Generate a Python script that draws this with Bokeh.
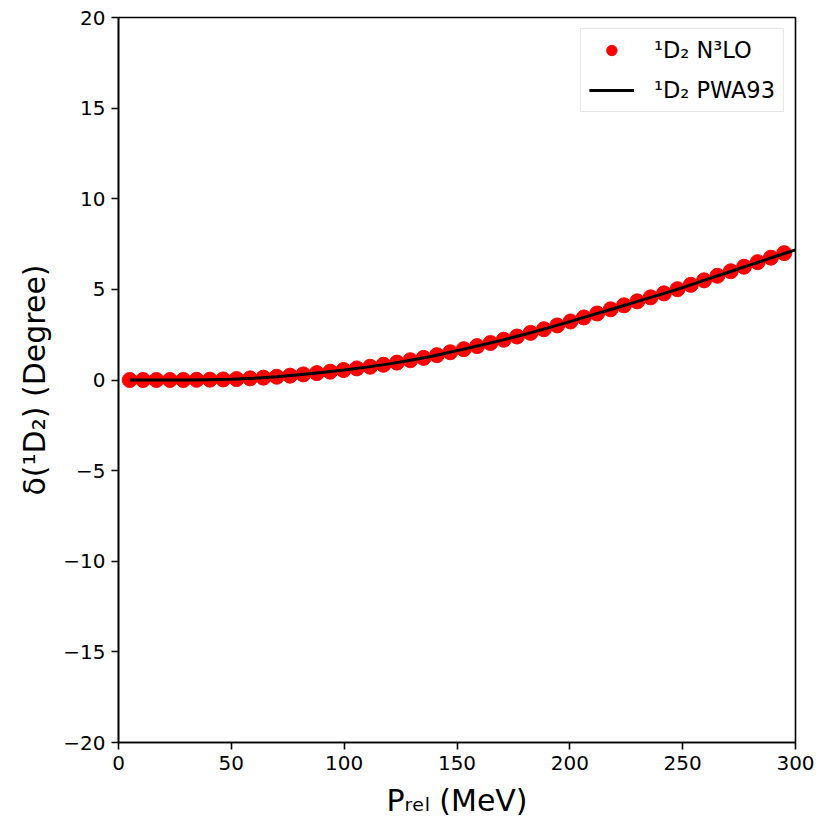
from bokeh.plotting import figure
from bokeh.models import Range1d, FixedTicker, Legend, LegendItem
from bokeh.embed import file_html
from bokeh.resources import INLINE

# ---------------- data ----------------
n3lo_p = [5.0, 10.9, 16.8, 22.8, 28.7, 34.6, 40.5, 46.4, 52.3, 58.3,
          64.2, 70.1, 76.0, 81.9, 87.9, 93.8, 99.7, 105.6, 111.5, 117.4,
          123.4, 129.3, 135.2, 141.1, 147.0, 153.0, 158.9, 164.8, 170.7, 176.6,
          182.6, 188.5, 194.4, 200.3, 206.2, 212.1, 218.1, 224.0, 229.9, 235.8,
          241.7, 247.7, 253.6, 259.5, 265.4, 271.3, 277.2, 283.2, 289.1, 295.0]
n3lo_delta = [0.00, 0.00, 0.00, 0.00, 0.00, 0.01, 0.02, 0.03, 0.05, 0.09,
              0.13, 0.18, 0.24, 0.31, 0.38, 0.46, 0.55, 0.64, 0.73, 0.84,
              0.96, 1.09, 1.22, 1.37, 1.53, 1.70, 1.87, 2.04, 2.22, 2.40,
              2.60, 2.80, 3.01, 3.23, 3.45, 3.67, 3.90, 4.12, 4.34, 4.56,
              4.78, 5.01, 5.25, 5.50, 5.75, 6.00, 6.25, 6.50, 6.75, 7.00]

pwa_p = [5, 10, 20, 30, 40, 50, 60, 70, 80, 90, 100, 110, 120, 130, 140, 150,
         160, 170, 180, 190, 200, 210, 220, 230, 240, 250, 260, 270, 280, 290, 300]
pwa_delta = [0.00, 0.00, 0.00, 0.00, 0.02, 0.04, 0.09, 0.18, 0.29, 0.41, 0.55,
             0.71, 0.89, 1.10, 1.34, 1.62, 1.90, 2.20, 2.52, 2.86, 3.22, 3.59,
             3.96, 4.34, 4.71, 5.10, 5.52, 5.93, 6.35, 6.77, 7.18]

x_ticks = [0, 50, 100, 150, 200, 250, 300]
y_ticks = [-20, -15, -10, -5, 0, 5, 10, 15, 20]
legend_labels = ["\u00b9D\u2082 N\u00b3LO", "\u00b9D\u2082 PWA93"]
x_title = "P\u1d63\u2091\u2097 (MeV)"
y_title = "\u03b4(\u00b9D\u2082) (Degree)"

# ---------------- layout ----------------
W, H = 815, 820
BL, BT = 118, 17
BR, BB = W - 795, H - 742

p = figure(width=W, height=H, x_range=Range1d(0, 300), y_range=Range1d(-20, 20),
           output_backend="svg", toolbar_location=None,
           min_border_left=BL, min_border_right=BR, min_border_top=BT, min_border_bottom=BB)
p.background_fill_color = "white"
p.border_fill_color = "white"
p.outline_line_color = "black"
p.outline_line_width = 1.6
p.xgrid.visible = False
p.ygrid.visible = False

for ax, ticks in ((p.xaxis[0], x_ticks), (p.yaxis[0], y_ticks)):
    ax.ticker = FixedTicker(ticks=ticks)
    ax.major_label_overrides = {t: (("\u2212" + str(abs(t))) if t < 0 else str(t)) for t in ticks}
    ax.axis_line_color = "black"
    ax.axis_line_width = 1.6
    ax.major_tick_line_color = "black"
    ax.major_tick_line_width = 1.6
    ax.major_tick_in = 0
    ax.major_tick_out = 7
    ax.minor_tick_line_color = None
    ax.major_label_text_font = "DejaVu Sans"
    ax.major_label_text_font_size = "20px"
    ax.major_label_text_color = "black"
    ax.major_label_standoff = 6
    ax.axis_label_text_font = "DejaVu Sans"
    ax.axis_label_text_font_size = "30px"
    ax.axis_label_text_font_style = "normal"
    ax.axis_label_text_color = "black"

p.xaxis.axis_label = x_title
p.yaxis.axis_label = y_title
p.xaxis.axis_label_standoff = 10
p.yaxis.axis_label_standoff = 8

# ---------------- series ----------------
sc = p.scatter(n3lo_p, n3lo_delta, size=15, color="red", line_color="red")
ln = p.line(pwa_p, pwa_delta, line_color="black", line_width=3)

legend = Legend(items=[LegendItem(label=legend_labels[0], renderers=[sc]),
                       LegendItem(label=legend_labels[1], renderers=[ln])],
                location="top_right")
legend.label_text_font = "DejaVu Sans"
legend.label_text_font_size = "22.5px"
legend.label_text_color = "black"
legend.glyph_width = 45
legend.glyph_height = 26
legend.label_height = 26
legend.label_standoff = 20
legend.spacing = 14
legend.padding = 8
legend.margin = 11
legend.border_line_color = "#cccccc"
legend.border_line_width = 1
legend.background_fill_alpha = 0.8
p.add_layout(legend)

open("out.html", "w").write(file_html(p, INLINE))
